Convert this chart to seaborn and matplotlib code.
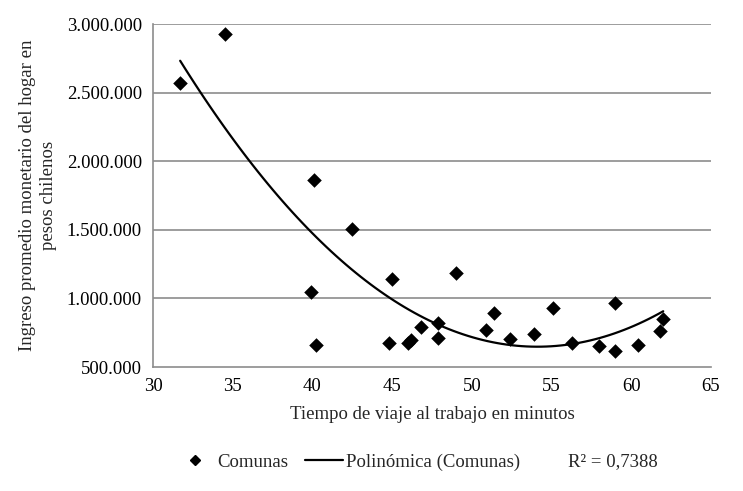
import numpy as np
import pandas as pd
import matplotlib
matplotlib.use("Agg")
import matplotlib.pyplot as plt
import seaborn as sns
from matplotlib.lines import Line2D
from matplotlib.ticker import FuncFormatter

# --- Data ---
travel_minutes = [31.7, 34.5, 40.1, 42.5, 39.9, 40.2, 45.0, 49.0, 44.8, 46.0,
                  46.2, 46.8, 47.9, 47.9, 51.4, 50.9, 52.4, 53.9, 55.1, 56.3,
                  58.0, 59.0, 59.0, 60.4, 61.8, 62.0]
household_income = [2568000, 2925000, 1861000, 1506000, 1047000, 660000,
                    1139000, 1185000, 675000, 677000, 697000, 789000, 823000,
                    709000, 894000, 767000, 704000, 740000, 928000, 675000,
                    653000, 617000, 964000, 660000, 760000, 850000]
x_ticks = [30, 35, 40, 45, 50, 55, 60, 65]
y_ticks = [500000, 1000000, 1500000, 2000000, 2500000, 3000000]
r2_label = "R² = 0,7388"

df = pd.DataFrame({"minutos": travel_minutes, "ingreso": household_income})

sns.set_style("white")
plt.rcParams["font.family"] = ["Liberation Serif", "DejaVu Serif"]
fs = 13.5
plt.rcParams["font.size"] = fs

fig = plt.figure(figsize=(7.43, 4.91), dpi=100)
ax = fig.add_axes([0.206, 0.2525, 0.751, 0.6985])

grid_col = "#8c8c8c"
for yv in y_ticks[1:]:
    ax.axhline(yv, color=grid_col, lw=1.2, zorder=0)

sns.scatterplot(data=df, x="minutos", y="ingreso", marker="D", s=55,
                color="black", edgecolor="black", linewidth=0, ax=ax, zorder=3)
sns.regplot(data=df, x="minutos", y="ingreso", order=2, ci=None, scatter=False,
            line_kws={"color": "black", "lw": 1.6}, ax=ax)

ax.set_xlim(30, 65)
ax.set_ylim(500000, 3000000)
ax.set_xticks(x_ticks)
ax.set_yticks(y_ticks)
ax.yaxis.set_major_formatter(FuncFormatter(lambda v, p: f"{int(v):,}".replace(",", ".")))

for side in ["top", "right"]:
    ax.spines[side].set_visible(False)
for side in ["left", "bottom"]:
    ax.spines[side].set_color(grid_col)
    ax.spines[side].set_linewidth(1.2)
ax.tick_params(axis="both", direction="out", length=5, width=1.2, color=grid_col,
               labelsize=fs, labelcolor="black", pad=3)

ax.set_xlabel("Tiempo de viaje al trabajo en minutos", fontsize=fs, labelpad=8)
ax.set_ylabel("Ingreso promedio monetario del hogar en\npesos chilenos",
              fontsize=fs, labelpad=7, linespacing=1.3)

handles = [
    Line2D([], [], marker="D", color="black", linestyle="none", markersize=5),
    Line2D([], [], color="black", lw=1.6),
]
labels = ["Comunas", "Polinómica (Comunas)"]
fig.legend(handles, labels, loc="center left", bbox_to_anchor=(176 / 743, 0.059),
           ncol=2, frameon=False, fontsize=fs, handlelength=2.0,
           handletextpad=0.2, columnspacing=0.9, borderpad=0, borderaxespad=0)
fig.text(568 / 743, 0.059, r2_label, fontsize=fs, ha="left", va="center")

fig.savefig("out.png", dpi=100)
